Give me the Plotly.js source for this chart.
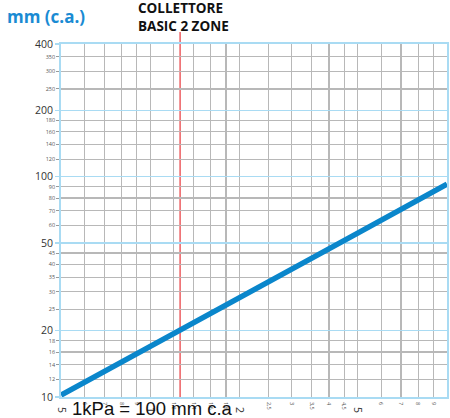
<!DOCTYPE html>
<html>
<head>
<meta charset="utf-8">
<script src="https://cdn.plot.ly/plotly-3.0.1.min.js"></script>
<style>html,body{margin:0;padding:0;background:#fff;}#chart{width:450px;height:418px;}</style>
</head>
<body>
<div id="chart"></div>
<script>
// Flow (x) vs pressure drop in mm c.a. (y), log-log
const flowValues = [0.5, 1, 2, 5, 10];
const dropValues = [10.2, 16.9, 28, 55.4, 92.5];
const collectorFlow = 1.26;

const xTickVals = [0.5,0.6,0.7,0.8,0.9,1,1.2,1.4,1.6,1.8,2,2.5,3,3.5,4,4.5,5,6,7,8,9,10];
const xMinorLabels = ["","6","7","8","9","","1,2","1,4","1,6","1,8","","2,5","3","3,5","4","4,5","","6","7","8","9",""];
const xMajorVals = [0.5, 1, 2, 5, 10];
const xMajorLabels = ["5", "1", "2", "5", "1"];

const yMajorVals = [10, 20, 50, 100, 200, 400];
const yMajorLabels = ["10", "20", "50", "100", "200", "400"];
const yMinorVals = [12,14,16,18,25,30,35,40,45,60,70,80,90,120,140,160,180,250,300,350];
const yMinorLabels = ["12","14","16","18","25","30","35","40","45","60","70","80","90","120","140","160","180","250","300","350"];

const BLUE_GRID = '#a9dbf3';
const GRAY_GRID = '#b8b8b8';
const xr = [Math.log10(0.5), Math.log10(10)];
const yr = [Math.log10(10), Math.log10(400)];

const traces = [
  {x: flowValues, y: dropValues, type: 'scatter', mode: 'lines',
   line: {color: '#0a86cb', width: 5.5}, hoverinfo: 'skip', showlegend: false},
  {x: flowValues, y: dropValues, xaxis: 'x2', yaxis: 'y2', type: 'scatter', mode: 'lines',
   opacity: 0, line: {width: 0.1}, hoverinfo: 'skip', showlegend: false}
];

const layout = {
  width: 450, height: 418,
  margin: {l: 61, r: 3, t: 44, b: 21, pad: 0},
  paper_bgcolor: '#ffffff',
  plot_bgcolor: 'rgba(0,0,0,0)',
  showlegend: false,
  font: {family: 'Open Sans, sans-serif', color: '#444'},
  title: {
    text: '<b>mm (c.a.)</b>',
    font: {family: 'Open Sans, sans-serif', size: 17, color: '#1a8bd3'},
    x: 7/450, xref: 'container', xanchor: 'left',
    y: 1 - 17/418, yref: 'container', yanchor: 'middle'
  },
  xaxis: {
    type: 'log', range: xr, fixedrange: true,
    tickmode: 'array', tickvals: xTickVals, ticktext: xMinorLabels,
    tickangle: 90, tickfont: {size: 5.5, color: '#555'},
    ticks: '', ticklabelstandoff: 2,
    showgrid: true, gridcolor: GRAY_GRID, gridwidth: 1.2,
    showline: true, mirror: true, linecolor: BLUE_GRID, linewidth: 1.8,
    zeroline: false
  },
  xaxis2: {
    type: 'log', range: xr, overlaying: 'x', anchor: 'y', side: 'bottom', fixedrange: true,
    tickmode: 'array', tickvals: xMajorVals, ticktext: xMajorLabels,
    tickangle: 90, tickfont: {size: 10.5, color: '#333'},
    ticks: '', ticklabelstandoff: 9,
    showgrid: false, showline: false, zeroline: false
  },
  yaxis: {
    type: 'log', range: yr, fixedrange: true,
    tickmode: 'array', tickvals: yMinorVals, ticktext: yMinorLabels,
    tickfont: {size: 5.5, color: '#555'},
    ticks: 'outside', ticklen: 3, tickcolor: '#999', tickwidth: 1,
    showgrid: true, gridcolor: GRAY_GRID, gridwidth: 1.2,
    showline: true, mirror: true, linecolor: BLUE_GRID, linewidth: 1.8,
    zeroline: false
  },
  yaxis2: {
    type: 'log', range: yr, overlaying: 'y', anchor: 'x', side: 'left', fixedrange: true,
    tickmode: 'array', tickvals: yMajorVals, ticktext: yMajorLabels,
    tickfont: {size: 10.5, color: '#333'},
    ticks: 'outside', ticklen: 5, tickcolor: BLUE_GRID, tickwidth: 1.5,
    showgrid: true, gridcolor: BLUE_GRID, gridwidth: 1.6,
    showline: false, zeroline: false
  },
  shapes: [
    {type: 'line', xref: 'x', yref: 'paper', x0: collectorFlow, x1: collectorFlow,
     y0: 0, y1: (397 - 32) / 353, layer: 'below', line: {color: '#e8353a', width: 1.2}}
  ],
  annotations: [
    {text: '<b>COLLETTORE<br>BASIC 2 ZONE</b>', xref: 'x', yref: 'paper',
     x: Math.log10(collectorFlow), y: (397 - 17) / 353, xanchor: 'center', yanchor: 'middle',
     xshift: 3, align: 'left', showarrow: false,
     font: {family: 'Open Sans, sans-serif', size: 13.5, color: '#111'}},
    {text: '1kPa = 100 mm c.a', xref: 'paper', yref: 'paper',
     x: (70 - 61) / 386, y: (397 - 408) / 353, xanchor: 'left', yanchor: 'middle',
     showarrow: false,
     font: {family: 'Liberation Sans, Arial, sans-serif', size: 18.5, color: '#111'}}
  ]
};

Plotly.newPlot('chart', traces, layout, {displayModeBar: false, staticPlot: true});
</script>
</body>
</html>
